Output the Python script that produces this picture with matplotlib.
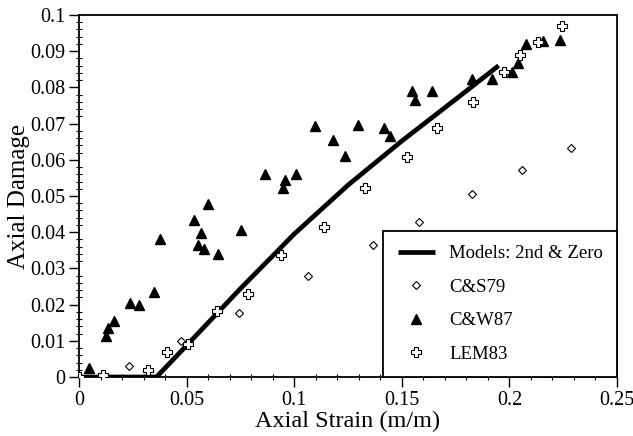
import matplotlib
matplotlib.use("Agg")
import matplotlib.pyplot as plt
from matplotlib.ticker import MultipleLocator, FuncFormatter

# Model curve
model_x = [0.0, 0.036, 0.05, 0.075, 0.10, 0.125, 0.15, 0.175, 0.195]
model_y = [0.0, 0.0, 0.0087, 0.0244, 0.0395, 0.0530, 0.0652, 0.0767, 0.0860]

# C&S79 (open diamonds)
cs79_x = [0.0, 0.0234, 0.0472, 0.0745, 0.1066, 0.1368, 0.1582, 0.1825, 0.2060, 0.2285]
cs79_y = [0.0, 0.0030, 0.0100, 0.0178, 0.0280, 0.0366, 0.0428, 0.0505, 0.0572, 0.0632]

# C&W87 (filled triangles)
cw87_x = [0.0046, 0.0124, 0.0136, 0.0163, 0.0238, 0.0279, 0.0347, 0.0378,
          0.0534, 0.0551, 0.0565, 0.0580, 0.0599, 0.0647, 0.0751, 0.0864,
          0.0946, 0.0959, 0.1010, 0.1097, 0.1180, 0.1236, 0.1298, 0.1419,
          0.1447, 0.1546, 0.1561, 0.1640, 0.1825, 0.1920, 0.2012, 0.2038,
          0.2077, 0.2158, 0.2237]
cw87_y = [0.0024, 0.0112, 0.0136, 0.0155, 0.0205, 0.0200, 0.0235, 0.0380,
          0.0433, 0.0366, 0.0397, 0.0353, 0.0478, 0.0340, 0.0405, 0.0560,
          0.0522, 0.0544, 0.0560, 0.0692, 0.0655, 0.0610, 0.0697, 0.0688,
          0.0666, 0.0789, 0.0765, 0.0790, 0.0822, 0.0822, 0.0842, 0.0868,
          0.0920, 0.0927, 0.0932]

# LEM83 (open crosses)
lem83_x = [0.0, 0.0113, 0.0319, 0.0410, 0.0508, 0.0640, 0.0787, 0.0939,
           0.1138, 0.1329, 0.1524, 0.1662, 0.1831, 0.1973, 0.2050, 0.2131, 0.2243]
lem83_y = [0.0, 0.0005, 0.0018, 0.0068, 0.0092, 0.0182, 0.0230, 0.0338,
           0.0413, 0.0521, 0.0608, 0.0688, 0.0761, 0.0843, 0.0890, 0.0926, 0.0970]

plt.rcParams['font.family'] = ['Liberation Serif', 'DejaVu Serif']

fig = plt.figure(figsize=(6.33, 4.36), dpi=100)
ax = fig.add_axes([79/633, 1-377/436, (617-79)/633, (377-15)/436])

ax.plot(model_x, model_y, color='black', lw=3.4, label='Models: 2nd & Zero', zorder=3,
        solid_capstyle='butt', solid_joinstyle='round')
ax.plot(cs79_x, cs79_y, ls='none', marker='D', ms=4, mfc='white', mec='black', mew=0.8,
        label='C&S79', zorder=4)
ax.plot(cw87_x, cw87_y, ls='none', marker='^', ms=7, mfc='black', mec='black',
        label='C&W87', zorder=4)
ax.plot(lem83_x, lem83_y, ls='none', marker='P', ms=7.5, mfc='white', mec='black', mew=0.8,
        label='LEM83', zorder=5)

ax.set_xlim(0, 0.25)
ax.set_ylim(0, 0.1)
ax.xaxis.set_major_locator(MultipleLocator(0.05))
ax.xaxis.set_minor_locator(MultipleLocator(0.01))
ax.yaxis.set_major_locator(MultipleLocator(0.01))
ax.yaxis.set_minor_locator(MultipleLocator(0.002))

def fmt(v, pos):
    s = f"{v:.2f}".rstrip('0').rstrip('.')
    return s if s else '0'
ax.xaxis.set_major_formatter(FuncFormatter(fmt))
ax.yaxis.set_major_formatter(FuncFormatter(fmt))

ax.tick_params(which='major', direction='out', length=7, width=1, labelsize=14.5, pad=3)
ax.tick_params(which='minor', direction='inout', length=5, width=0.8)
for s in ax.spines.values():
    s.set_linewidth(1.3)

ax.set_xlabel('Axial Strain (m/m)', fontsize=17.5, labelpad=1)
ax.set_ylabel('Axial Damage', fontsize=18, labelpad=0)

leg = ax.legend(loc='lower right', borderaxespad=0, fontsize=13.5, frameon=True,
                fancybox=False, edgecolor='black', framealpha=1, handlelength=2.0,
                handletextpad=0.75, labelspacing=0.88, borderpad=0.75)
leg.get_frame().set_linewidth(1.3)

fig.savefig('out.png', dpi=100)
